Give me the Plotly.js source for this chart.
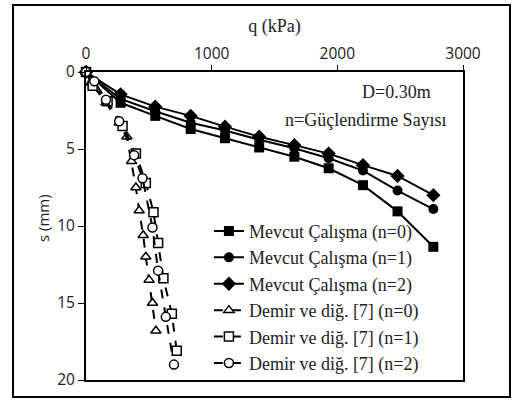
<!DOCTYPE html>
<html><head><meta charset="utf-8">
<script src="https://cdn.plot.ly/plotly-3.0.1.min.js"></script>
<style>
html,body{margin:0;padding:0;background:#fff;}
#wrap{position:relative;width:512px;height:400px;}
#chart{position:absolute;left:0;top:0;width:512px;height:400px;}
#frame{position:absolute;left:12px;top:4px;width:495px;height:390px;border:2px solid #000;pointer-events:none;}
</style></head>
<body><div id="wrap"><div id="chart"></div><div id="frame"></div></div>
<script>
// Mevcut Çalışma (present study)
const qMevcut = [0, 275, 551, 833, 1106, 1378, 1658, 1931, 2204, 2479, 2764];
const sMevcut0 = [0, 2.0, 2.85, 3.7, 4.3, 4.9, 5.5, 6.25, 7.35, 9.05, 11.35];
const sMevcut1 = [0, 1.75, 2.55, 3.3, 3.8, 4.4, 4.95, 5.6, 6.4, 7.7, 8.9];
const sMevcut2 = [0, 1.45, 2.25, 2.85, 3.55, 4.2, 4.75, 5.3, 6.05, 6.75, 8.0];
// Demir ve diğ. [7]
const qDemir0 = [0, 40, 159, 264, 325, 362, 397, 423, 455, 476, 502, 529, 556];
const sDemir0 = [0, 0.7, 2.0, 3.3, 4.2, 5.8, 7.5, 9.0, 10.6, 12.0, 13.5, 15.0, 16.8];
const qDemir1 = [0, 53, 172, 291, 397, 476, 537, 574, 616, 683, 722];
const sDemir1 = [0, 0.9, 1.9, 3.5, 5.3, 7.2, 9.1, 11.1, 13.4, 15.7, 18.1];
const qDemir2 = [0, 66, 159, 264, 383, 450, 529, 574, 635, 700];
const sDemir2 = [0, 0.6, 1.8, 3.2, 5.4, 6.9, 10.1, 12.9, 15.9, 19.0];

const names = ["Mevcut Çalışma (n=0)","Mevcut Çalışma (n=1)","Mevcut Çalışma (n=2)",
  "Demir ve diğ. [7] (n=0)","Demir ve diğ. [7] (n=1)","Demir ve diğ. [7] (n=2)"];

function solid(x,y,name,sym,size){
  return {x:x,y:y,name:name,type:'scatter',mode:'lines+markers',cliponaxis:false,
    line:{color:'#000',width:2},marker:{symbol:sym,size:size,color:'#000'}};
}
function dashed(x,y,name,sym,size){
  return {x:x,y:y,name:name,type:'scatter',mode:'lines+markers',cliponaxis:false,
    line:{color:'#000',width:2,dash:'dash'},
    marker:{symbol:sym,size:size,color:'#fff',line:{color:'#000',width:1.5}}};
}
const data = [
  solid(qMevcut,sMevcut0,names[0],'square',10),
  solid(qMevcut,sMevcut1,names[1],'circle',10),
  solid(qMevcut,sMevcut2,names[2],'diamond',11),
  dashed(qDemir0,sDemir0,names[3],'triangle-up',9),
  dashed(qDemir1,sDemir1,names[4],'square',9),
  dashed(qDemir2,sDemir2,names[5],'circle',9)
];
const tickFont = {family:'Open Sans, sans-serif',size:15.5,color:'#222'};
const layout = {
  width:512,height:400,
  margin:{l:86,r:49,t:72,b:20,autoexpand:false},
  paper_bgcolor:'#fff',plot_bgcolor:'#fff',
  showlegend:true,
  legend:{x:0.326,y:0.543,xanchor:'left',yanchor:'top',bgcolor:'rgba(0,0,0,0)',
    font:{family:'Liberation Serif, serif',size:18,color:'#222'},tracegroupgap:0},
  xaxis:{side:'top',range:[0,3000],tickvals:[0,1000,2000,3000],ticks:'outside',ticklen:5,automargin:false,
    tickcolor:'#000',showline:true,mirror:true,linecolor:'#000',linewidth:2,showgrid:false,zeroline:false,
    tickfont:tickFont,
    title:{text:'q (kPa)',font:{family:'Liberation Serif',size:18,color:'#222'},standoff:4}},
  yaxis:{range:[20,0],tickvals:[0,5,10,15,20],ticks:'outside',ticklen:6,automargin:false,
    tickcolor:'#000',showline:true,mirror:true,linecolor:'#000',linewidth:2,showgrid:false,zeroline:false,
    tickfont:tickFont},
  annotations:[
    {xref:'paper',yref:'paper',x:-0.114,y:0.526,xanchor:'center',yanchor:'middle',showarrow:false,
     textangle:-90,text:'s (mm)',font:{family:'Open Sans, sans-serif',size:15,color:'#222'}},
    {xref:'paper',yref:'paper',x:0.92,y:0.935,xanchor:'right',yanchor:'middle',showarrow:false,
     text:'D=0.30m',font:{family:'Liberation Serif, serif',size:18,color:'#222'}},
    {xref:'paper',yref:'paper',x:0.963,y:0.845,xanchor:'right',yanchor:'middle',showarrow:false,
     text:'n=Güçlendirme Sayısı',font:{family:'Liberation Serif, serif',size:18,color:'#222'}}
  ]
};
Plotly.newPlot('chart',data,layout,{displayModeBar:false,staticPlot:true});
</script></body></html>
